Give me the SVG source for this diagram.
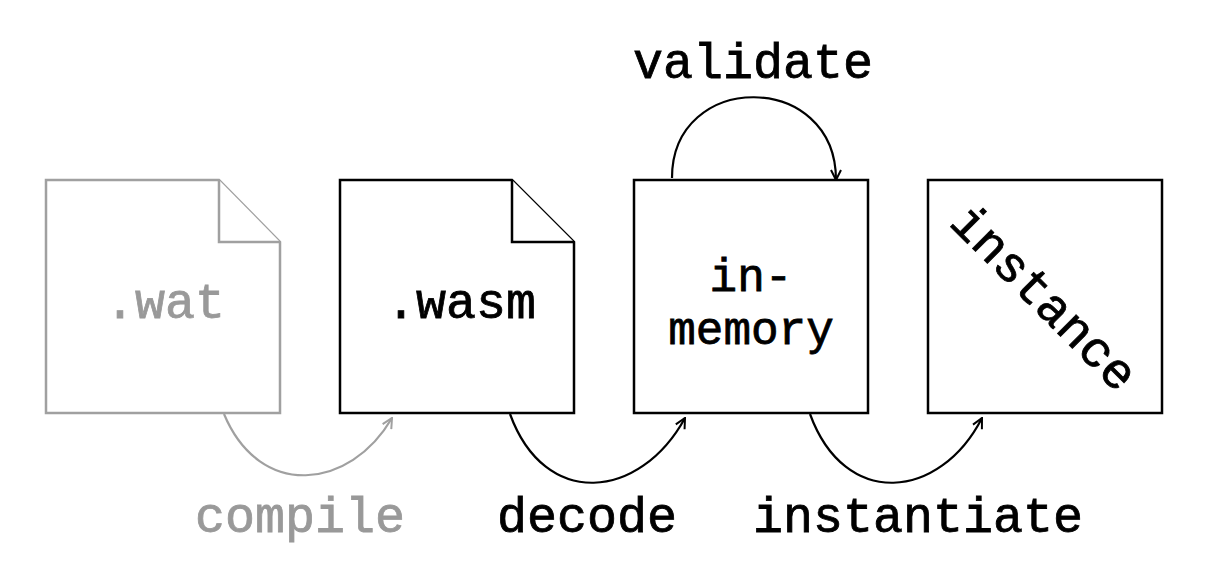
<svg xmlns="http://www.w3.org/2000/svg" width="1220" height="574" viewBox="0 0 1220 574">
<style>
.box{fill:#fff;stroke:#000;stroke-width:2.5}
.gbox{fill:#fff;stroke:#a0a0a0;stroke-width:2.5}
.t{font-family:"Liberation Mono","Courier New",monospace;font-size:50px;fill:#000;stroke:#000;stroke-width:0.8;text-anchor:middle}
.s{font-size:46px}
.g{fill:#999;stroke:#999}
.c{fill:none;stroke:#000;stroke-width:2.2}
.gc{fill:none;stroke:#a0a0a0;stroke-width:2.2}
</style>
<defs>
<marker id="ah" viewBox="0 0 12 12" refX="11" refY="6" markerWidth="12" markerHeight="12" markerUnits="userSpaceOnUse" orient="auto">
<path d="M1,1 L11,6 L1,11" fill="none" stroke="#000" stroke-width="2"/>
</marker>
<marker id="gah" viewBox="0 0 12 12" refX="11" refY="6" markerWidth="12" markerHeight="12" markerUnits="userSpaceOnUse" orient="auto">
<path d="M1,1 L11,6 L1,11" fill="none" stroke="#a0a0a0" stroke-width="2"/>
</marker>
</defs>
<rect width="1220" height="574" fill="#fff"/>
<g id="wat">
<path class="gbox" d="M46,180 L219,180 L280,242 L280,413 L46,413 Z"/>
<path class="gbox" d="M219,180 L219,242 L280,242"/>
<text class="t g" x="165" y="318">.wat</text>
</g>
<g id="wasm">
<path class="box" d="M340,180 L512,180 L574,242 L574,413 L340,413 Z"/>
<path class="box" d="M512,180 L512,242 L574,242"/>
<text class="t" x="461" y="318">.wasm</text>
</g>
<g id="inmemory">
<rect class="box" x="634" y="180" width="234" height="233"/>
<text class="t s" x="751" y="291">in-</text>
<text class="t s" x="751" y="344">memory</text>
</g>
<g id="instance">
<rect class="box" x="928" y="180" width="234" height="233"/>
<text class="t" x="1045" y="314" transform="rotate(45 1045 297)">instance</text>
</g>
<g id="connectors">
<path class="gc" d="M224,414 C260,500 350,490 392,418" marker-end="url(#gah)"/>
<path class="c" d="M510,414 C545,510 640,500 685,418" marker-end="url(#ah)"/>
<path class="c" d="M810,414 C845,510 940,500 982,418" marker-end="url(#ah)"/>
<path class="c" d="M672,178 C672,70 836,70 836,180" marker-end="url(#ah)"/>
</g>
<g id="labels">
<text class="t" x="753" y="78">validate</text>
<text class="t g" x="300" y="532">compile</text>
<text class="t" x="587" y="532">decode</text>
<text class="t" x="918" y="532">instantiate</text>
</g>
</svg>
